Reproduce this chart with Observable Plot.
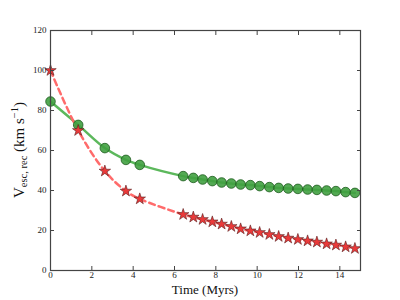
<!DOCTYPE html>
<html>
<head>
<meta charset="utf-8">
<script src="https://cdn.jsdelivr.net/npm/d3@7"></script>
<script src="https://cdn.jsdelivr.net/npm/@observablehq/plot@0.6"></script>
<style>
  html, body { margin: 0; padding: 0; background: #fff; }
</style>
</head>
<body>
<div id="chart"></div>
<script>
const timeMyrs = [0, 1.34, 2.63, 3.65, 4.32, 6.42, 6.91, 7.36, 7.83, 8.28, 8.75, 9.2, 9.67, 10.12, 10.59, 11.04, 11.5, 11.97, 12.44, 12.89, 13.36, 13.81, 14.28, 14.73];
const vGreen = [84.5, 72.8, 61.2, 55.3, 52.8, 47.2, 46.3, 45.5, 44.7, 44.0, 43.5, 43.0, 42.7, 42.2, 41.7, 41.3, 41.0, 40.8, 40.5, 40.3, 40.0, 39.7, 39.2, 38.8];
const vRed = [100, 70, 49.7, 39.7, 35.8, 28.0, 26.7, 25.5, 24.3, 23.2, 22.0, 20.8, 19.8, 19.0, 18.0, 17.0, 16.2, 15.5, 14.8, 14.2, 13.3, 12.7, 11.8, 11.0];
const xTicks = [0, 2, 4, 6, 8, 10, 12, 14];
const yTicks = [0, 20, 40, 60, 80, 100, 120];
const xLabel = "Time (Myrs)";

const green = timeMyrs.map((t, i) => ({t, v: vGreen[i]}));
const red = timeMyrs.map((t, i) => ({t, v: vRed[i]}));

const font = "Liberation Serif";
const chart = Plot.plot({
  width: 400,
  height: 300,
  marginLeft: 50,
  marginRight: 40,
  marginTop: 30,
  marginBottom: 30,
  style: {fontFamily: font, fontSize: "9px", background: "#fff", color: "#222"},
  x: {domain: [0, 15]},
  y: {domain: [0, 120]},
  marks: [
    Plot.line(green, {x: "t", y: "v", stroke: "#5cb85c", strokeWidth: 2.5, curve: "catmull-rom"}),
    Plot.line(red, {x: "t", y: "v", stroke: "#ff6b6b", strokeWidth: 2.5, strokeDasharray: "6,4", curve: "catmull-rom"}),
    Plot.dot(green, {x: "t", y: "v", symbol: "circle", r: 4.8, fill: "#40a040", fillOpacity: 0.9, stroke: "#1e5a1e", strokeWidth: 0.8}),
    Plot.dot(red, {x: "t", y: "v", symbol: "star", r: 3.6, fill: "#ea3a3a", stroke: "#5a1c1c", strokeWidth: 0.6}),
    Plot.axisX({ticks: xTicks, tickSize: -4, tickPadding: 5, label: null, stroke: "#444"}),
    Plot.axisX({ticks: xTicks, anchor: "top", tickSize: -4, tickFormat: () => "", label: null, stroke: "#444"}),
    Plot.axisY({ticks: yTicks, tickSize: -4, tickPadding: 8, label: null, stroke: "#444"}),
    Plot.axisY({ticks: yTicks, anchor: "right", tickSize: -4, tickFormat: () => "", label: null, stroke: "#444"}),
    Plot.frame({stroke: "#444", strokeWidth: 1.2})
  ]
});

const svg = d3.select(chart);
svg.append("text")
  .attr("x", 205).attr("y", 294)
  .attr("text-anchor", "middle")
  .attr("font-family", font).attr("font-size", 13).attr("fill", "#111")
  .text(xLabel);

const yl = svg.append("text")
  .attr("transform", "translate(24,150) rotate(-90)")
  .attr("text-anchor", "middle")
  .attr("font-family", font).attr("font-size", 15).attr("fill", "#111");
yl.append("tspan").text("V");
yl.append("tspan").attr("font-size", 10.5).attr("dy", 3).text("esc, rec");
yl.append("tspan").attr("dy", -3).text(" (km s");
yl.append("tspan").attr("font-size", 10.5).attr("dy", -6).text("−1");
yl.append("tspan").attr("dy", 6).text(")");

document.getElementById("chart").appendChild(chart);
</script>
</body>
</html>
